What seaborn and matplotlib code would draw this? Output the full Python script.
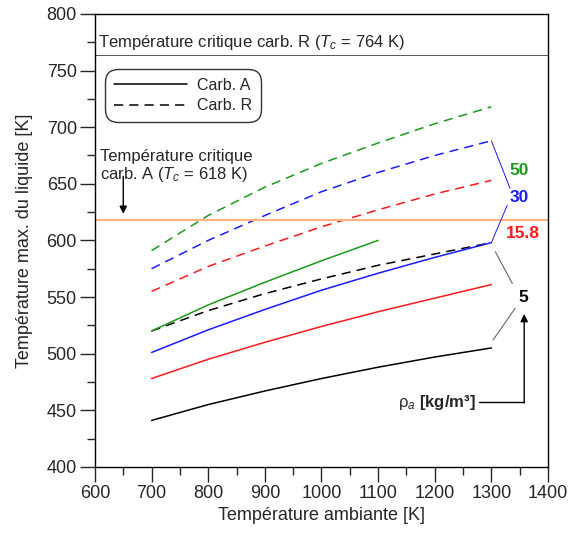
import pandas as pd
import matplotlib.pyplot as plt
import seaborn as sns
from matplotlib.lines import Line2D
from matplotlib.ticker import MultipleLocator

# Temperature ambiante [K]
t_amb = [700, 800, 900, 1000, 1100, 1200, 1300]
t_amb_a50 = [700, 800, 900, 1000, 1100]

# Carb. A (solid) - temperature max du liquide [K]
a_5 = [441, 455, 467, 478, 488, 497, 505]
a_158 = [478, 495, 510, 524, 537, 549, 561]
a_30 = [501, 521, 539, 556, 571, 585, 598]
a_50 = [520, 543, 563, 582, 600]

# Carb. R (dashed)
r_5 = [520, 538, 553, 566, 578, 588, 598]
r_158 = [555, 577, 595, 612, 627, 641, 653]
r_30 = [575, 600, 622, 643, 660, 675, 688]
r_50 = [591, 622, 647, 668, 686, 703, 718]

rho_labels = ['5', '15.8', '30', '50']
colors = {'5': 'black', '15.8': '#ff1a1a', '30': '#1a1aff', '50': '#1a9a1a'}

rows = []
for fuel, series in [('A', [(t_amb, a_5), (t_amb, a_158), (t_amb, a_30), (t_amb_a50, a_50)]),
                     ('R', [(t_amb, r_5), (t_amb, r_158), (t_amb, r_30), (t_amb, r_50)])]:
    for rho, (xs, ys) in zip(rho_labels, series):
        for x, y in zip(xs, ys):
            rows.append({'T_amb': x, 'T_max': y, 'rho': rho, 'fuel': fuel})
df = pd.DataFrame(rows)

sns.set_style('white')
plt.rcParams['font.family'] = ['Liberation Sans', 'DejaVu Sans']
plt.rcParams['mathtext.fontset'] = 'custom'
plt.rcParams['mathtext.rm'] = 'Liberation Sans'
plt.rcParams['mathtext.it'] = 'Liberation Sans:italic'
plt.rcParams['mathtext.bf'] = 'Liberation Sans:bold'

fig = plt.figure(figsize=(5.72, 5.36), dpi=100)
ax = fig.add_axes([0.166, 0.129, 0.792, 0.845])

sns.lineplot(data=df, x='T_amb', y='T_max', hue='rho', style='fuel',
             palette=colors, dashes={'A': '', 'R': (6, 4)},
             linewidth=1.1, legend=False, ax=ax, sort=False)

# critical temperatures
ax.axhline(764, color='#555555', lw=0.7)
ax.axhline(618, color='#ffb27f', lw=1.5)
ax.text(606, 775, 'Température critique carb. R ($T_c$ = 764 K)', fontsize=12, va='center')
ax.text(609, 650, 'Température critique\ncarb. A ($T_c$ = 618 K)', fontsize=12, va='bottom',
        linespacing=1.05)
ax.annotate('', xy=(650, 621), xytext=(650, 659),
            arrowprops=dict(arrowstyle='-|>', color='black', lw=1, mutation_scale=11))

# density labels
ax.text(1349, 662, '50', color=colors['50'], fontsize=12.5, fontweight='bold', ha='center', va='center')
ax.text(1349, 638, '30', color=colors['30'], fontsize=12.5, fontweight='bold', ha='center', va='center')
ax.text(1355, 606, '15.8', color=colors['15.8'], fontsize=12.5, fontweight='bold', ha='center', va='center')
ax.text(1356, 550, '5', color='black', fontsize=12.5, fontweight='bold', ha='center', va='center')
ax.plot([1300, 1333], [688, 646], color=colors['30'], lw=0.7)
ax.plot([1328, 1300], [631, 598], color=colors['30'], lw=0.7)
ax.plot([1307, 1337], [590, 562], color='#666666', lw=0.8)
ax.plot([1342, 1303], [540, 512], color='#666666', lw=0.8)

ax.text(1273, 457, r'$\mathrm{ρ}_a$ [kg/m³]', fontsize=12, fontweight='bold', ha='right', va='center')
ax.plot([1278, 1358], [457, 457], color='black', lw=1)
ax.annotate('', xy=(1358, 535), xytext=(1358, 456.5),
            arrowprops=dict(arrowstyle='-|>', color='black', lw=1, mutation_scale=11,
                            shrinkA=0, shrinkB=0))

handles = [Line2D([], [], color='black', lw=1.1, label='Carb. A'),
           Line2D([], [], color='black', lw=1.1, ls=(0, (6, 4)), label='Carb. R')]
leg = ax.legend(handles=handles, loc='upper left', bbox_to_anchor=(0.008, 0.893),
                fontsize=11.5, frameon=True, fancybox=True, edgecolor='black',
                handlelength=4.6, handletextpad=0.6, borderpad=0.45, labelspacing=0.35)
leg.get_frame().set_linewidth(1)
leg.get_frame().set_boxstyle('round', pad=0.1, rounding_size=0.8)

ax.set_xlim(600, 1400)
ax.set_ylim(400, 800)
ax.xaxis.set_major_locator(MultipleLocator(100))
ax.xaxis.set_minor_locator(MultipleLocator(50))
ax.yaxis.set_major_locator(MultipleLocator(50))
ax.yaxis.set_minor_locator(MultipleLocator(25))
ax.tick_params(which='major', direction='out', length=11, width=1, labelsize=13, pad=2,
               bottom=True, left=True, top=False, right=False)
ax.tick_params(which='minor', direction='out', length=6, width=1,
               bottom=True, left=True, top=False, right=False)
for s in ax.spines.values():
    s.set_color('black')
    s.set_linewidth(1)
ax.set_xlabel('Température ambiante [K]', fontsize=13, labelpad=4)
ax.set_ylabel('Température max. du liquide [K]', fontsize=13, labelpad=10)

fig.savefig('out.png', dpi=100)
